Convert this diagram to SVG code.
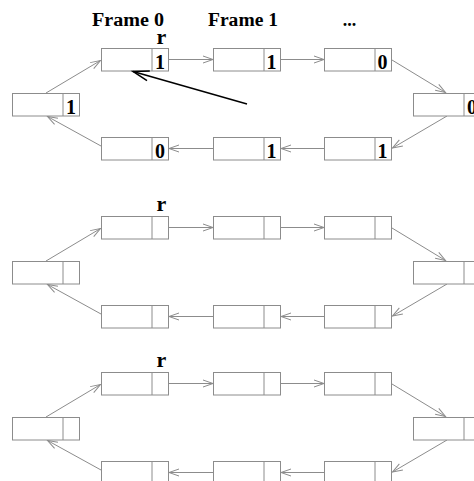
<svg xmlns="http://www.w3.org/2000/svg" width="474" height="481" viewBox="0 0 474 481">
<defs>
<style>
.cn line{stroke:#8c8c8c;stroke-width:1;marker-end:url(#ah)}
.d{font-family:"Liberation Serif",serif;font-weight:bold;font-size:20px;text-anchor:middle;fill:#000}
.lbl{font-family:"Liberation Serif",serif;font-weight:bold;font-size:18px;text-anchor:middle;fill:#000}
.r{font-family:"Liberation Serif",serif;font-weight:bold;font-size:22px;text-anchor:middle;fill:#000}
</style>
<marker id="ah" markerUnits="userSpaceOnUse" markerWidth="12" markerHeight="8" refX="10" refY="3.5" orient="auto" overflow="visible">
<path d="M0,0 L10,3.5 L0,7" fill="none" stroke="#8c8c8c" stroke-width="1"/>
</marker>
<marker id="ahb" markerUnits="userSpaceOnUse" markerWidth="18" markerHeight="12" refX="16" refY="5" orient="auto" overflow="visible">
<path d="M0,0 L16,5 L0,10" fill="none" stroke="#000" stroke-width="1.5"/>
</marker>
<g id="cell">
<rect x="0.5" y="0.5" width="67" height="22.5" fill="#fff" stroke="#8c8c8c" stroke-width="1"/>
<line x1="51" y1="0.5" x2="51" y2="23" stroke="#8c8c8c" stroke-width="1"/>
</g>
</defs>
<rect width="474" height="481" fill="#fff"/>

<g id="labels">
<text class="lbl" x="128" y="26" textLength="72" lengthAdjust="spacingAndGlyphs">Frame 0</text>
<text class="lbl" x="243" y="26" textLength="70" lengthAdjust="spacingAndGlyphs">Frame 1</text>
<text class="lbl" x="349.5" y="26">...</text>
<text class="r" x="161.5" y="44">r</text>
<text class="r" x="161.5" y="211">r</text>
<text class="r" x="161.5" y="367">r</text>
</g>

<g id="connectors" class="cn">
<line x1="168.5" y1="59.5" x2="213" y2="59.5"/>
<line x1="280.5" y1="59.5" x2="324" y2="59.5"/>
<line x1="392" y1="60" x2="445.5" y2="92.5"/>
<line x1="447" y1="116" x2="392.5" y2="148"/>
<line x1="324" y1="148.5" x2="281" y2="148.5"/>
<line x1="213" y1="148.5" x2="169" y2="148.5"/>
<line x1="101" y1="146" x2="47.5" y2="116.5"/>
<line x1="46" y1="93" x2="100.5" y2="60.5"/>

<line x1="168.5" y1="227.5" x2="213" y2="227.5"/>
<line x1="280.5" y1="227.5" x2="324" y2="227.5"/>
<line x1="392" y1="228" x2="445.5" y2="260.5"/>
<line x1="447" y1="284" x2="392.5" y2="316"/>
<line x1="324" y1="316.5" x2="281" y2="316.5"/>
<line x1="213" y1="316.5" x2="169" y2="316.5"/>
<line x1="101" y1="314" x2="47.5" y2="284.5"/>
<line x1="46" y1="261" x2="100.5" y2="228.5"/>

<line x1="168.5" y1="383.5" x2="213" y2="383.5"/>
<line x1="280.5" y1="383.5" x2="324" y2="383.5"/>
<line x1="392" y1="384" x2="445.5" y2="416.5"/>
<line x1="447" y1="440" x2="392.5" y2="472"/>
<line x1="324" y1="472.5" x2="281" y2="472.5"/>
<line x1="213" y1="472.5" x2="169" y2="472.5"/>
<line x1="101" y1="470" x2="47.5" y2="440.5"/>
<line x1="46" y1="417" x2="100.5" y2="384.5"/>
</g>

<g id="s1-top1"><use href="#cell" x="101" y="48"/><text class="d" x="160" y="69">1</text></g>
<g id="s1-top2"><use href="#cell" x="213" y="48"/><text class="d" x="271.5" y="69">1</text></g>
<g id="s1-top3"><use href="#cell" x="324" y="48"/><text class="d" x="382.5" y="69">0</text></g>
<g id="s1-right"><use href="#cell" x="413" y="93"/><text class="d" x="472" y="114">0</text></g>
<g id="s1-bot3"><use href="#cell" x="324" y="137"/><text class="d" x="382.5" y="158">1</text></g>
<g id="s1-bot2"><use href="#cell" x="213" y="137"/><text class="d" x="271.5" y="158">1</text></g>
<g id="s1-bot1"><use href="#cell" x="101" y="137"/><text class="d" x="160" y="158">0</text></g>
<g id="s1-left"><use href="#cell" x="12" y="93"/><text class="d" x="71" y="114">1</text></g>

<g id="s2-top1"><use href="#cell" x="101" y="216"/></g>
<g id="s2-top2"><use href="#cell" x="213" y="216"/></g>
<g id="s2-top3"><use href="#cell" x="324" y="216"/></g>
<g id="s2-right"><use href="#cell" x="413" y="261"/></g>
<g id="s2-bot3"><use href="#cell" x="324" y="305"/></g>
<g id="s2-bot2"><use href="#cell" x="213" y="305"/></g>
<g id="s2-bot1"><use href="#cell" x="101" y="305"/></g>
<g id="s2-left"><use href="#cell" x="12" y="261"/></g>

<g id="s3-top1"><use href="#cell" x="101" y="372"/></g>
<g id="s3-top2"><use href="#cell" x="213" y="372"/></g>
<g id="s3-top3"><use href="#cell" x="324" y="372"/></g>
<g id="s3-right"><use href="#cell" x="413" y="417"/></g>
<g id="s3-bot3"><use href="#cell" x="324" y="461"/></g>
<g id="s3-bot2"><use href="#cell" x="213" y="461"/></g>
<g id="s3-bot1"><use href="#cell" x="101" y="461"/></g>
<g id="s3-left"><use href="#cell" x="12" y="417"/></g>

<g id="pointer">
<line x1="247" y1="104" x2="133" y2="71.5" stroke="#000" stroke-width="1.5" marker-end="url(#ahb)"/>
</g>
</svg>
